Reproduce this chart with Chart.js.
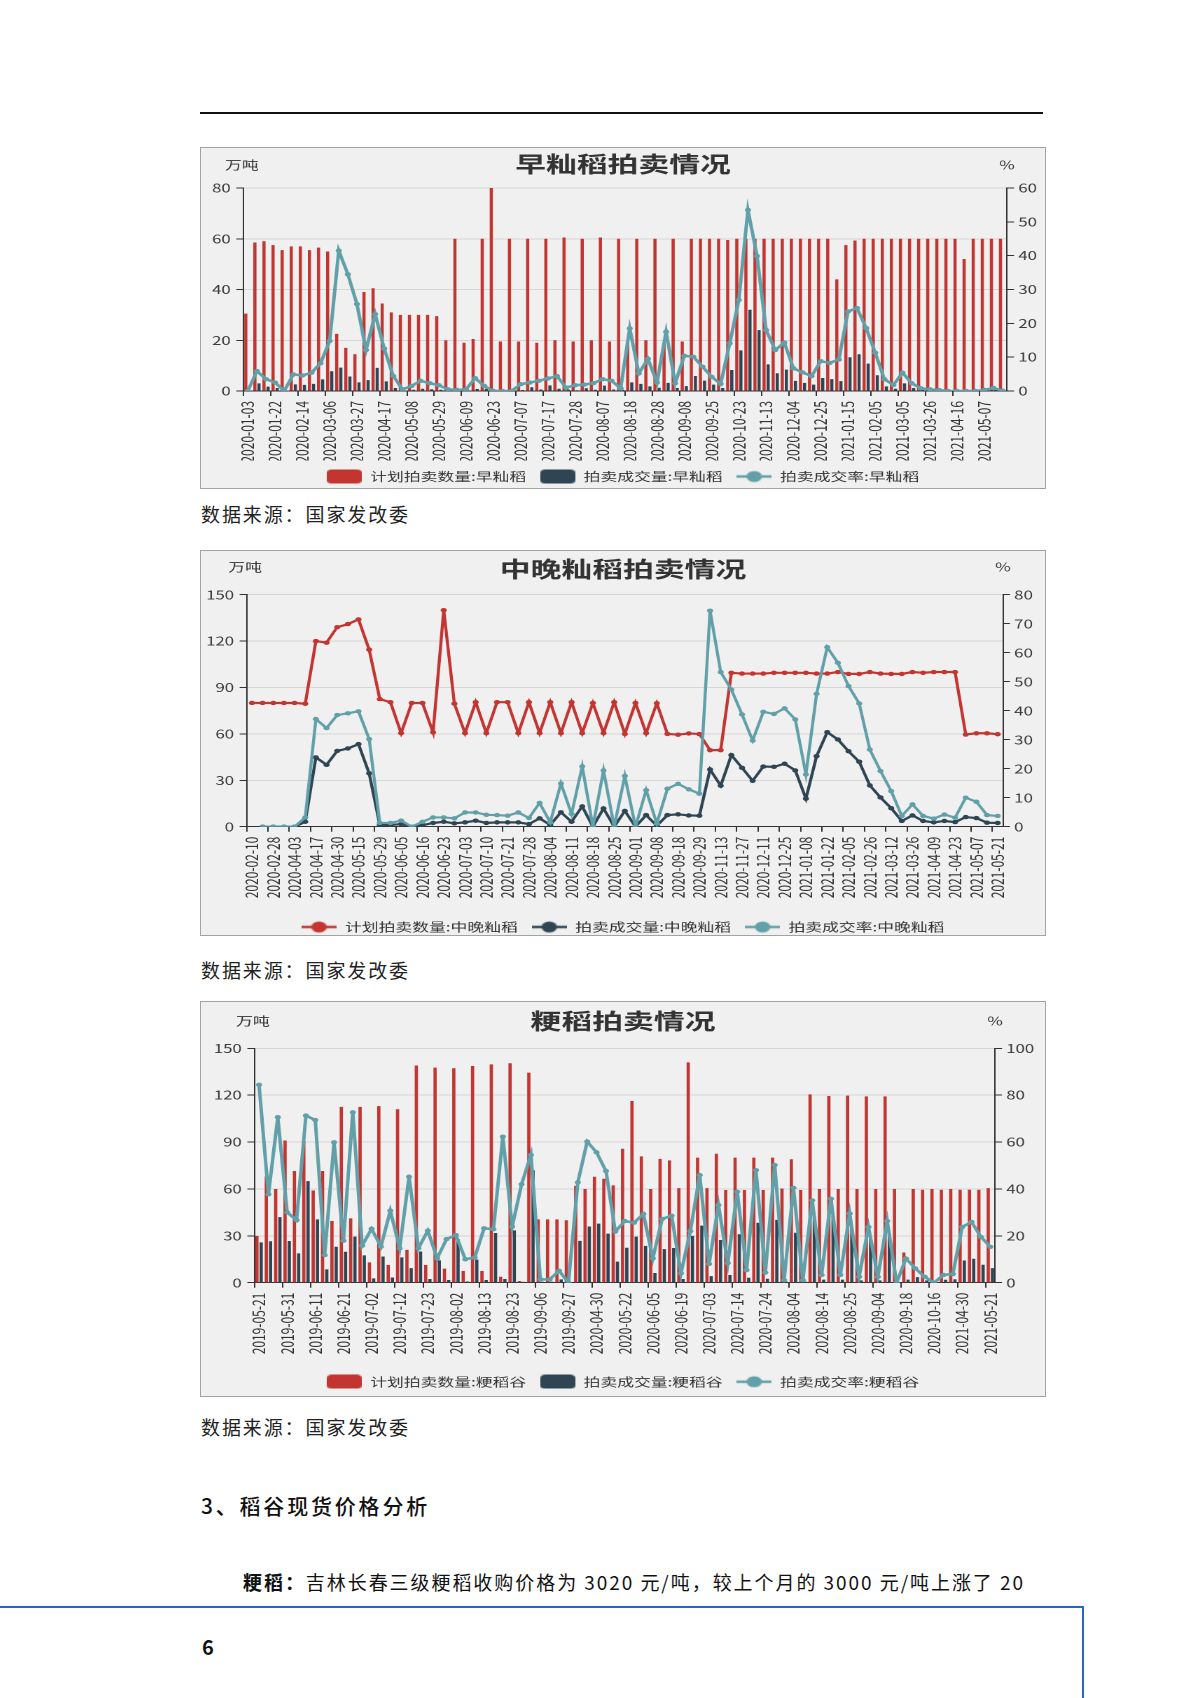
<!DOCTYPE html>
<html lang="zh-CN">
<head>
<meta charset="utf-8">
<title>稻谷拍卖情况</title>
<script src="https://cdn.jsdelivr.net/npm/chart.js@4.4.1/dist/chart.umd.min.js"></script>
<style>
  html, body { margin:0; padding:0; background:#fff; }
  body { position:relative; width:1200px; height:1698px; overflow:hidden; font-family:"Noto Sans CJK SC","Noto Sans",sans-serif; color:#1a1a1a; }
  .rule { position:absolute; left:200px; top:112px; width:843px; height:2px; background:#111; }
  .box { position:absolute; left:200px; width:846px; background:#f0f0f0; }
  .frame { position:absolute; left:0; top:0; right:0; bottom:0; border:1px solid #a3a3a3; pointer-events:none; }
  .cw { position:absolute; left:0; top:0; width:604px; transform-origin:0 0; transform:scaleX(1.40066); }
  .txt { position:absolute; white-space:nowrap; line-height:1; }
  .src { left:201px; font-size:19px; color:#222; }
  .blue-h { position:absolute; left:0; top:1606px; width:1084px; height:2px; background:#2a66c0; }
  .blue-v { position:absolute; left:1082px; top:1606px; width:2px; height:92px; background:#2a66c0; }
</style>
</head>
<body>
<div class="rule"></div>

<div class="box" style="top:147px;height:342px;"><div class="cw"><canvas id="c1" width="604" height="352"></canvas></div><div class="frame"></div></div>
<div class="txt src" style="top:504px" data-w="209">数据来源：国家发改委</div>

<div class="box" style="top:550px;height:386px;"><div class="cw"><canvas id="c2" width="604" height="396"></canvas></div><div class="frame"></div></div>
<div class="txt src" style="top:960px" data-w="209">数据来源：国家发改委</div>

<div class="box" style="top:1001px;height:396px;"><div class="cw"><canvas id="c3" width="604" height="406"></canvas></div><div class="frame"></div></div>
<div class="txt src" style="top:1417px" data-w="209">数据来源：国家发改委</div>

<div class="txt" style="top:1495px;left:201px;font-size:21px;font-weight:500;color:#111" data-w="229">3、稻谷现货价格分析</div>
<div class="txt" style="top:1572px;left:243px;font-size:19px;color:#111" data-w="782"><b>粳稻：</b>吉林长春三级粳稻收购价格为 3020 元/吨，较上个月的 3000 元/吨上涨了 20</div>
<div class="blue-h"></div><div class="blue-v"></div>
<div class="txt" style="top:1637px;left:202px;font-size:20px;font-weight:700;color:#111">6</div>

<script>
// ---------------- data: 早籼稻 ----------------
const earlyTicks = ['2020-01-03','2020-01-22','2020-02-14','2020-03-06','2020-03-27','2020-04-17','2020-05-08','2020-05-29','2020-06-09','2020-06-23','2020-07-07','2020-07-17','2020-07-28','2020-08-07','2020-08-18','2020-08-28','2020-09-08','2020-09-25','2020-10-23','2020-11-13','2020-12-04','2020-12-25','2021-01-15','2021-02-05','2021-03-05','2021-03-26','2021-04-16','2021-05-07'];
const earlyPlan = [30.5,58.5,59,57.5,55.5,57,57,55.5,56.5,55, 22.5,17,14.5,39,40.5,34.5,31,30,30,30, 30,29.5,20,60,19,20.5,60,80,19.5,60, 19.5,60,19,60,20,60.5,19.5,60,20,60.5, 19.5,60,19,60,20,60,19,60,19.5,60, 60,60,60,59.5,60,60,60,60,60,60, 60,60,60,60,60,44,57.5,59.3,60,60, 60,60,60,60,60,60,60,60,60,52, 60,60,60,60];
const earlyDeal = [0,3.0,1.7,1.2,0,2.6,2.4,2.8,4.6,7.8, 9.2,5.7,3.4,4.3,9.1,3.8,1.2,0.2,0.5,0.9, 0.7,0.5,0.1,0.2,0.1,0.8,0.9,0,0,0, 0.4,1.5,0.6,2.2,0.9,0.6,0.3,1.1,0.5,2.1, 0.6,0.5,3.4,2.8,1.8,1.3,3.2,1.2,1.9,5.9, 4.1,2.5,1.2,8.3,16,32,24,10.5,7.0,8.4, 4.0,3.2,2.5,5.1,4.7,3.9,13.3,14.5,10.8,6.2, 1.8,0.9,3.0,1.2,0.4,0.3,0.2,0,0,0, 0,0.1,0.5,0.1];
const earlyRate = [0,5.9,3.5,2.5,0,4.9,4.6,5.4,8.2,14.8, 41.5,34.5,25.7,12.1,22.7,12.5,4.4,0.5,1.5,3.0, 2.3,1.7,0.5,0.3,0.5,3.8,1.5,0,0,0, 2.0,2.5,3.0,3.7,4.4,1.0,1.7,1.9,2.3,3.5, 3.0,0.8,18.5,5.2,9.5,2.5,17.5,2.3,10.4,10.1, 7.2,4.2,2.1,14.1,26.9,53.5,39.9,18.0,12.1,14.3, 6.7,5.5,4.4,8.8,8.3,9.3,23.5,24.5,18.6,11.3, 3.5,1.8,5.4,2.3,0.8,0.5,0.3,0,0,0, 0,0.3,0.9,0.1];

// ---------------- data: 中晚籼稻 ----------------
const midTicks = ['2020-02-10','2020-02-28','2020-04-03','2020-04-17','2020-04-30','2020-05-15','2020-05-29','2020-06-05','2020-06-16','2020-06-23','2020-07-03','2020-07-10','2020-07-21','2020-07-28','2020-08-04','2020-08-11','2020-08-18','2020-08-25','2020-09-01','2020-09-08','2020-09-18','2020-09-29','2020-11-13','2020-11-27','2020-12-11','2020-12-25','2021-01-08','2021-01-22','2021-02-05','2021-02-26','2021-03-12','2021-03-26','2021-04-09','2021-04-23','2021-05-07','2021-05-21'];
const midPlan = [80,80,80,80,80,79.5,120,119,129,131,134,114.5, 82.5,80.5,60.5,80,80,61,140,79.5,60.5,80.5,60.5,80.5, 80.5,60.5,80.5,60.5,80.5,60.5,80.5,60.5,80,60.5,80.5,60, 80,60.5,79.8,60,59.5,60.3,59.9,49.5,49.5,99.5,99,99, 99,99.5,99.5,99.5,99.5,99,99,100,98.8,98.8,100,99, 98.8,98.8,100,99.5,100,100,100,59.6,60.4,60.4,59.8];
const midDeal = [null,0,0,0,0,3.2,44.8,40,49,50.6,53.4,34.5, 1.1,1.1,1.7,0,1.0,2.4,3.2,2.2,2.8,3.9,2.4,2.8, 2.8,2.8,1.7,5.4,1.1,9.3,3.2,13.1,0,11.8,0,10.2, 0,7.5,0.6,7.5,8.0,7.3,7.1,37,26.5,46.3,38.1,29.7, 38.9,38.7,40.7,36.4,18.1,45.6,61.1,56.4,48.8,42,26.7,18.9, 12,3.7,7.3,3.7,2.8,3.7,3.0,6.2,5.6,2.6,2.4];
const midRate = [null,0,0,0,0,3.2,37.1,34,38.5,39.1,39.8,30.2, 1.3,1.3,2.1,0,1.7,3.2,3.2,2.9,4.9,4.9,4.1,4.0, 3.8,4.9,3.0,8.2,1.5,14.9,4.4,20.8,0,19.4,0,17.5, 0,12.6,1.1,13.1,14.8,12.9,11.4,74.5,53.3,47.3,38.7,29.7, 39.6,38.9,40.8,37,18,45.8,61.9,56.5,48.5,42.5,26.6,19.2, 12.3,3.7,7.7,3.7,2.8,4.2,3.1,10,8.6,4.0,3.7];

// ---------------- data: 粳稻 ----------------
const japTicks = ['2019-05-21','2019-05-31','2019-06-11','2019-06-21','2019-07-02','2019-07-12','2019-07-23','2019-08-02','2019-08-13','2019-08-23','2019-09-06','2019-09-27','2020-04-30','2020-05-22','2020-06-05','2020-06-19','2020-07-03','2020-07-14','2020-07-24','2020-08-04','2020-08-14','2020-08-25','2020-09-04','2020-09-18','2020-10-16','2021-04-30','2021-05-21'];
const japPlan = [30,68,60,91,71.5,90.5,59,71.5,39.5,112.5, 41.2,112.5,13,113,11.3,111,21,139,11.3,137.6, 9,137.2,7.5,138.7,7.5,139.7,3.8,140.4,1.1,134.4, 40.5,40.5,40.5,40,62,60,67.8,66.5,62.3,85.7, 116.3,80.8,60,79.2,78.3,60.5,141,80,60.5,82.5, 59.3,80,59.3,80,59.3,80,60.3,79,59.3,120.5, 60,119.5,60,119.7,60,119.2,60,119.2,60,19.3, 60,59.5,60,59.5,60,59.5,59.5,59.5,60.5];
const japDeal = [25.8,26.5,42,26.7,18.8,65,40.5,8.5,23,19.8, 29.5,17.5,2.8,16.8,3.3,16.2,9.3,20,2.4,14.3, 1.7,27.8,0.8,14.8,1.7,31.8,2.4,33.5,0.5,72, 0.6,0.6,2.1,0,26.8,36,37.8,31.4,13.5,22.4, 29.5,23.6,6.2,21.5,22.2,2.4,30,36.5,4.2,27.3, 4.9,31,3.2,38.4,2.5,40.2,0.7,32,0.7,42.4, 2,42.7,2,35.3,1.5,28.3,1.5,31.3,0,2.0, 3.6,1.5,0,1.9,2.2,14.2,15.3,11.5,9.3];
const japRate = [84.4,37.7,70.6,30,26.7,71.3,69.4,11.8,59.9,17.9, 72.7,15.8,23,15.4,30.7,14.7,45.2,14.7,22.2,10.4, 18.6,20.3,10,10.7,23.2,22.8,62.3,23.9,42,54.5, 1.4,1.4,5.1,0,42.8,60.2,55.6,47.7,21.8,26.3, 25.6,29.3,10.4,27.2,28.6,4.0,22,45.9,8,33.1, 8.4,38.8,5.4,48,4.3,50.2,1.1,40.5,1.1,35.1, 3.3,35.8,3.3,29.5,2.5,23.8,2.5,26.3,0,10.3, 6.1,2.5,0,3.3,3.7,23.8,25.9,19.5,15.3];

// ---------------- helpers ----------------
const FONT = '"Noto Sans CJK SC", "Noto Sans", sans-serif';
const C_RED = '#c23531', C_DARK = '#2f4554', C_TEAL = '#61a0a8';

// fit page text widths
document.querySelectorAll('[data-w]').forEach(el => {
  el.style.letterSpacing = '0px';
  const w = el.getBoundingClientRect().width;
  const n = el.textContent.length;
  el.style.letterSpacing = ((+el.dataset.w - w) / n) + 'px';
});

function expandCats(ticks, n, step) {
  return Array.from({ length: n }, (_, i) => (i % step === 0 ? (ticks[i / step] || '') : ''));
}
function iconRect(color) {
  const c = document.createElement('canvas'); c.width = 25; c.height = 14;
  const g = c.getContext('2d'); g.fillStyle = color; const r = 3.5, w = 25, h = 14;
  g.beginPath(); g.moveTo(r, 0); g.lineTo(w - r, 0); g.quadraticCurveTo(w, 0, w, r); g.lineTo(w, h - r);
  g.quadraticCurveTo(w, h, w - r, h); g.lineTo(r, h); g.quadraticCurveTo(0, h, 0, h - r); g.lineTo(0, r);
  g.quadraticCurveTo(0, 0, r, 0); g.closePath(); g.fill();
  return c;
}
function iconLine(color) {
  const c = document.createElement('canvas'); c.width = 25; c.height = 14;
  const g = c.getContext('2d'); g.strokeStyle = color; g.fillStyle = color; g.lineWidth = 2.5;
  g.beginPath(); g.moveTo(0, 7); g.lineTo(25, 7); g.stroke();
  g.beginPath(); g.arc(12.5, 7, 5.5, 0, Math.PI * 2); g.fill();
  return c;
}
const axisUnits = {
  id: 'axisUnits',
  afterDraw(chart, args, opts) {
    const { ctx } = chart;
    ctx.save();
    ctx.font = '12px ' + FONT;
    ctx.fillStyle = '#333';
    ctx.textAlign = 'center';
    ctx.textBaseline = 'middle';
    ctx.fillText(opts.left, chart.scales.y.right - 1, opts.y);
    ctx.fillText(opts.right, chart.scales.y1.left, opts.y);
    ctx.restore();
  }
};
function barDs(label, data, color, order) {
  return { type: 'bar', label, data, backgroundColor: color, borderWidth: 0, yAxisID: 'y',
           categoryPercentage: 0.9, barPercentage: 0.77, order };
}
function lineDs(label, data, color, axis, order, width) {
  return { type: 'line', label, data, borderColor: color, backgroundColor: color, borderWidth: width,
           pointRadius: 2.2, pointBorderWidth: 0, pointBackgroundColor: color, pointHoverRadius: 0,
           yAxisID: axis, order, tension: 0, spanGaps: true };
}
function build(id, o) {
  const step = o.step;
  return new Chart(document.getElementById(id), {
    type: o.type,
    data: { labels: o.cats, datasets: o.datasets },
    options: {
      responsive: false, maintainAspectRatio: false, animation: false, devicePixelRatio: 2, events: [],
      layout: { padding: { left: 0, right: 0, top: 0, bottom: o.lpb } },
      plugins: {
        title: { display: true, text: o.title, color: '#333', font: { size: 22, weight: 'bold', family: FONT },
                 padding: { top: o.tpt, bottom: o.tpb } },
        legend: {
          display: true, position: 'bottom', align: 'center',
          labels: {
            usePointStyle: true, pointStyleWidth: 25, boxHeight: 14, padding: 10, color: '#333',
            font: { size: 12, family: FONT },
            generateLabels: () => o.datasets.map((d, i) => ({
              text: d.label, fillStyle: d.backgroundColor, strokeStyle: 'rgba(0,0,0,0)', lineWidth: 0,
              pointStyle: o.icons[i], hidden: false, datasetIndex: i, fontColor: '#333'
            }))
          }
        },
        tooltip: { enabled: false },
        axisUnits: { left: '万吨', right: '%', y: o.unitY }
      },
      scales: {
        x: {
          type: 'category', offset: true,
          grid: { display: true, offset: true, drawOnChartArea: false, tickLength: 5, lineWidth: 1,
                  tickColor: (c) => (c.index % step === 0 ? '#333' : 'rgba(0,0,0,0)') },
          border: { display: true, color: '#333', width: 1 },
          ticks: { autoSkip: false, minRotation: 90, maxRotation: 90, padding: 5, color: '#333',
                   font: { size: 12, family: FONT }, callback: (v, i) => o.cats[i] },
          afterFit: (s) => { s.height = o.xh; }
        },
        y: {
          type: 'linear', position: 'left', min: 0, max: o.yMax,
          ticks: { stepSize: o.yStep, padding: 4, color: '#3a3a3a', font: { size: 12, family: FONT } },
          grid: { color: '#d6d6d6', lineWidth: 1, tickLength: 5, tickColor: '#333' },
          border: { display: true, color: '#333', width: 1 },
          afterFit: (s) => { s.width = o.lw; }
        },
        y1: {
          type: 'linear', position: 'right', min: 0, max: o.y1Max,
          ticks: { stepSize: o.y1Step, padding: 3, color: '#3a3a3a', font: { size: 12, family: FONT } },
          grid: { drawOnChartArea: false, tickLength: 5, tickColor: '#333' },
          border: { display: true, color: '#333', width: 1 },
          afterFit: (s) => { s.width = o.rw; }
        }
      }
    },
    plugins: [axisUnits]
  });
}

// ---------------- chart 1 ----------------
build('c1', {
  type: 'bar', title: '早籼稻拍卖情况', step: 3,
  cats: expandCats(earlyTicks, earlyPlan.length, 3),
  datasets: [
    barDs('计划拍卖数量:早籼稻', earlyPlan, C_RED, 1),
    barDs('拍卖成交量:早籼稻', earlyDeal, C_DARK, 2),
    lineDs('拍卖成交率:早籼稻', earlyRate, C_TEAL, 'y1', 0, 2.5)
  ],
  icons: [iconRect(C_RED), iconRect(C_DARK), iconLine(C_TEAL)],
  yMax: 80, yStep: 20, y1Max: 60, y1Step: 10,
  lw: 30.9, rw: 27.8, xh: 69.5, tpt: 4.1, tpb: 10.5, lpb: 6.5, unitY: 18
});

// ---------------- chart 2 ----------------
build('c2', {
  type: 'line', title: '中晚籼稻拍卖情况', step: 2,
  cats: expandCats(midTicks, midPlan.length, 2),
  datasets: [
    lineDs('计划拍卖数量:中晚籼稻', midPlan, C_RED, 'y', 2, 2.2),
    lineDs('拍卖成交量:中晚籼稻', midDeal, C_DARK, 'y', 1, 2.2),
    lineDs('拍卖成交率:中晚籼稻', midRate, C_TEAL, 'y1', 0, 2.2)
  ],
  icons: [iconLine(C_RED), iconLine(C_DARK), iconLine(C_TEAL)],
  yMax: 150, yStep: 30, y1Max: 80, y1Step: 10,
  lw: 33.3, rw: 30.7, xh: 84.3, tpt: 5.8, tpb: 12.5, lpb: 3, unitY: 17
});

// ---------------- chart 3 ----------------
build('c3', {
  type: 'bar', title: '粳稻拍卖情况', step: 3,
  cats: expandCats(japTicks, japPlan.length, 3),
  datasets: [
    barDs('计划拍卖数量:粳稻谷', japPlan, C_RED, 1),
    barDs('拍卖成交量:粳稻谷', japDeal, C_DARK, 2),
    lineDs('拍卖成交率:粳稻谷', japRate, C_TEAL, 'y1', 0, 2.5)
  ],
  icons: [iconRect(C_RED), iconRect(C_DARK), iconLine(C_TEAL)],
  yMax: 150, yStep: 30, y1Max: 100, y1Step: 20,
  lw: 38.8, rw: 36.4, xh: 83, tpt: 6.8, tpb: 14.1, lpb: 9.3, unitY: 20
});
</script>
</body>
</html>
